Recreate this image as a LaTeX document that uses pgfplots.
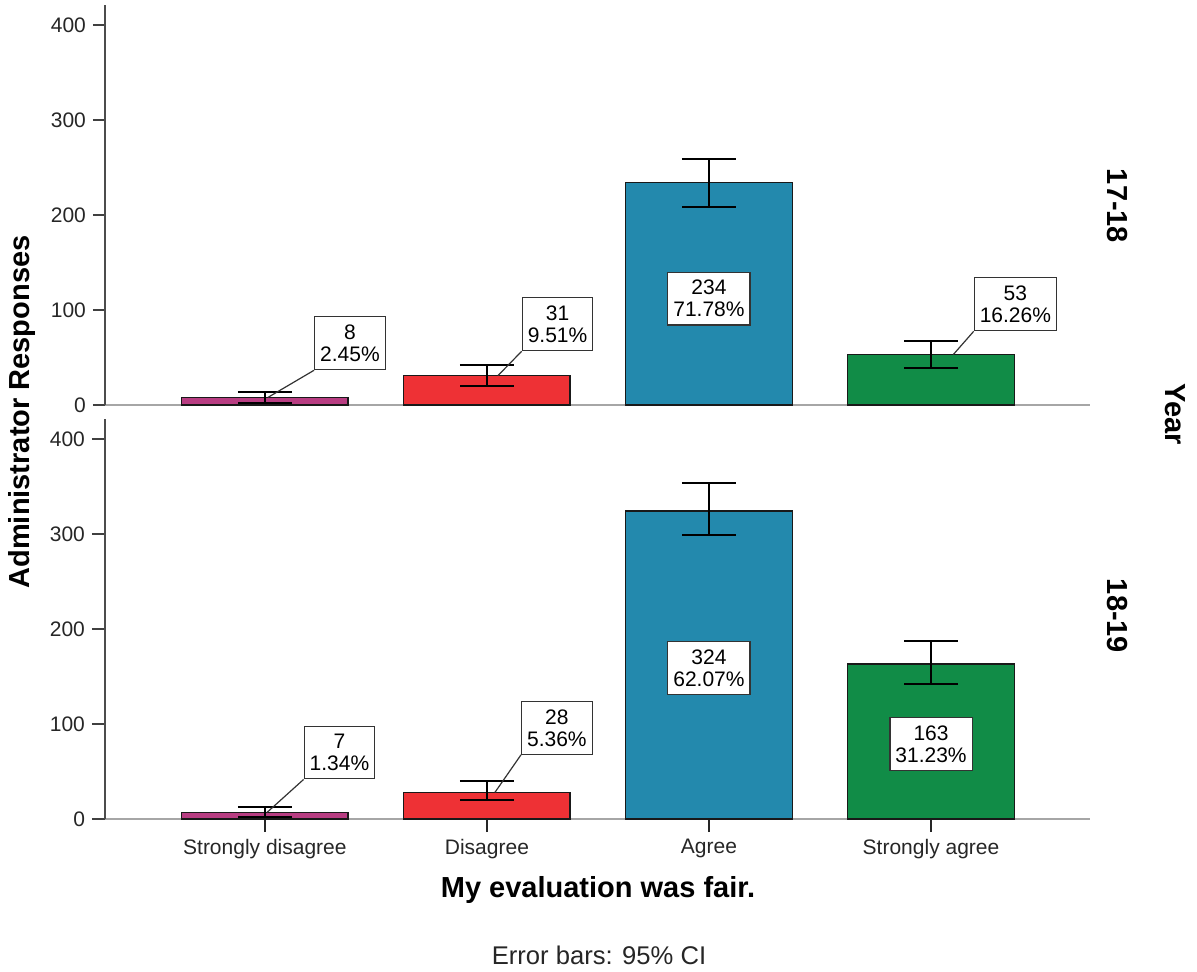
\documentclass[border=0pt]{standalone}
\usepackage{fontspec}
\setmainfont{Liberation Sans}
\usepackage{pgfplots}
\pgfplotsset{compat=1.18}

\definecolor{sdis}{HTML}{B83D82}
\definecolor{dis}{HTML}{EE3135}
\definecolor{agr}{HTML}{2389AD}
\definecolor{sagr}{HTML}{118C47}

\pgfplotsset{
  panel/.style={
    anchor=south west, scale only axis,
    width=492.5pt, height=200pt,
    xmin=-0.72, xmax=3.716, ymin=0, ymax=421,
    axis x line=bottom, axis y line=left,
    axis line style={-},
    x axis line style={draw=black!35, line width=1.4pt},
    y axis line style={draw=black!70, line width=0.6pt},
    ytick={0,100,200,300,400},
    tick align=outside, major tick length=6pt,
    tick style={draw=black!75, line width=0.8pt},
    ticklabel style={font=\fontsize{10.5}{12}\selectfont, text=black!85},
    /pgf/number format/assume math mode=true,
    ybar, bar width=0.75, clip=false,
  },
  bars/.style={fill=#1, draw=black!90, line width=0.7pt, bar shift=0pt,
    error bars/.cd, y dir=both, y explicit,
    error bar style={black, line width=1pt},
    error mark options={rotate=90, black, line width=1pt, mark size=13.5pt}},
}
\tikzset{
  lab/.style={draw=black!80, fill=white, line width=0.6pt, align=center,
    font=\fontsize{10.5}{11}\selectfont, inner xsep=2.75pt, inner ysep=4pt},
  lead/.style={draw=black!80, line width=0.6pt},
}

\begin{document}
\begin{tikzpicture}
\path[use as bounding box] (-52.5pt,-76pt) rectangle (546pt,409.5pt);

% 17-18
\begin{axis}[panel, at={(0,207pt)}, xtick=\empty]
\addplot[bars=sdis] coordinates {(0,8) += (0,6) -= (0,6)};
\addplot[bars=dis]  coordinates {(1,31) += (0,11) -= (0,11)};
\addplot[bars=agr]  coordinates {(2,234) += (0,25) -= (0,26)};
\addplot[bars=sagr] coordinates {(3,53) += (0,14) -= (0,14)};
\node[lab] (a) at (axis cs:0.383,65) {8\\2.45\%};
\draw[lead] (axis cs:0.014,8) -- (a.south west);
\node[lab] (b) at (axis cs:1.318,85) {31\\9.51\%};
\draw[lead] (axis cs:1.05,31) -- (b.south west);
\node[lab] at (axis cs:2,112) {234\\71.78\%};
\node[lab] (c) at (axis cs:3.38,106) {53\\16.26\%};
\draw[lead] (axis cs:3.1,53) -- (c.south west);
\end{axis}

% 18-19
\begin{axis}[panel, at={(0,0)}, xtick={0,1,2,3},
  xticklabels={Strongly disagree,Disagree,Agree,Strongly agree},
  x tick style={draw=black!85}, major tick length=6.5pt]
\addplot[bars=sdis] coordinates {(0,7) += (0,6) -= (0,5)};
\addplot[bars=dis]  coordinates {(1,28) += (0,12) -= (0,8)};
\addplot[bars=agr]  coordinates {(2,324) += (0,30) -= (0,25)};
\addplot[bars=sagr] coordinates {(3,163) += (0,24) -= (0,21)};
\node[lab] (d) at (axis cs:0.336,70) {7\\1.34\%};
\draw[lead] (axis cs:0.01,7) -- (d.south west);
\node[lab] (e) at (axis cs:1.315,96) {28\\5.36\%};
\draw[lead] (axis cs:1.036,28) -- (e.south west);
\node[lab] at (axis cs:2,159) {324\\62.07\%};
\node[lab] at (axis cs:3,79) {163\\31.23\%};
\end{axis}

\node[rotate=90, font=\fontsize{14.5}{16}\selectfont\bfseries] at (-41.5pt,203.5pt) {Administrator Responses};
\node[font=\fontsize{14.5}{16}\selectfont\bfseries] at (246.5pt,-35.5pt) {My evaluation was fair.};
\node[font=\fontsize{12.8}{14}\selectfont, text=black!85] at (247pt,-68pt) {Error bars: 95\% CI};
\node[rotate=-90, font=\fontsize{14.5}{16}\selectfont\bfseries] at (506pt,306.5pt) {17-18};
\node[rotate=-90, font=\fontsize{14.5}{16}\selectfont\bfseries] at (506pt,101.5pt) {18-19};
\node[rotate=-90, font=\fontsize{14.5}{16}\selectfont\bfseries] at (535pt,202.5pt) {Year};
\end{tikzpicture}
\end{document}
